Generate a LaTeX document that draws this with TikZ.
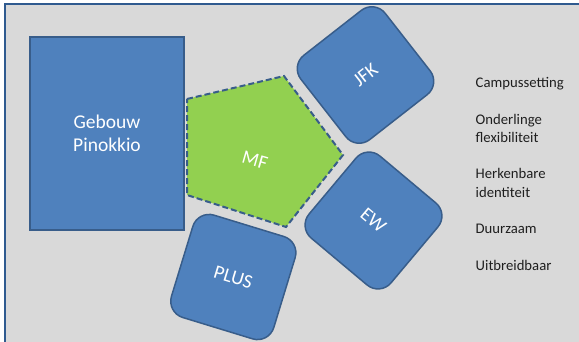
\documentclass[tikz,border=0pt]{standalone}
\usepackage{fontspec}
\setmainfont{Carlito}
\definecolor{bgc}{HTML}{D9D9D9}
\definecolor{framec}{HTML}{2F5A8F}
\definecolor{boxfill}{HTML}{4F81BD}
\definecolor{boxline}{HTML}{385D8A}
\definecolor{mfgreen}{HTML}{92D050}
\definecolor{listc}{HTML}{1F1F1F}
\tikzset{
  bluebox/.style={draw=boxline, line width=1.5pt, fill=boxfill, text=white, align=center,
    font=\fontsize{19.5}{23}\selectfont, inner sep=0pt},
  rbox/.style={bluebox, rounded corners=17pt, minimum width=107pt, minimum height=107pt},
  mfshape/.style={draw=boxline, line width=2pt, fill=mfgreen, dash pattern=on 6pt off 3pt},
  boxlabel/.style={text=white, font=\fontsize{19.5}{23}\selectfont, inner sep=0pt},
  listtext/.style={text=listc, font=\fontsize{14.7}{17.7}\selectfont, anchor=base west, inner sep=0pt}
}
\begin{document}
\begin{tikzpicture}[x=1pt,y=-1pt]
\useasboundingbox (0,0) rectangle (579,342);
\fill[white] (0,0) rectangle (579,342);
\begin{scope}
\clip (0,0) rectangle (579,342);
\draw[framec, line width=2pt, fill=bgc] (5,4) rectangle (600,360);
\end{scope}
% Gebouw Pinokkio
\node[bluebox, minimum width=154pt, minimum height=193pt] (geb) at (107,133.5) {Gebouw\\Pinokkio};
% MF pentagon
\coordinate (p1) at (187,99);
\coordinate (p2) at (284,76);
\coordinate (p3) at (343,155);
\coordinate (p4) at (286,227);
\coordinate (p5) at (187,195);
\draw[mfshape] (p1) -- (p2) -- (p3) -- (p4) -- (p5) -- cycle;
\node[boxlabel, rotate=-16] (mf) at (255,160) {MF};
% rotated boxes
\node[rbox, rotate=38] (jfk) at (365.5,75) {JFK};
\node[rbox, rotate=-40] (ew) at (373.5,220.5) {EW};
\node[rbox, rotate=-17] (plus) at (233.3,277) {PLUS};
% list
\node[listtext] (t1) at (475.5,88) {Campussetting};
\node[listtext] (t2) at (475.5,125) {Onderlinge};
\node[listtext] (t3) at (475.5,142.5) {flexibiliteit};
\node[listtext] (t4) at (475.5,179) {Herkenbare};
\node[listtext] (t5) at (475.5,197.5) {identiteit};
\node[listtext] (t6) at (475.5,234) {Duurzaam};
\node[listtext] (t7) at (475.5,270.5) {Uitbreidbaar};
\end{tikzpicture}
\end{document}
